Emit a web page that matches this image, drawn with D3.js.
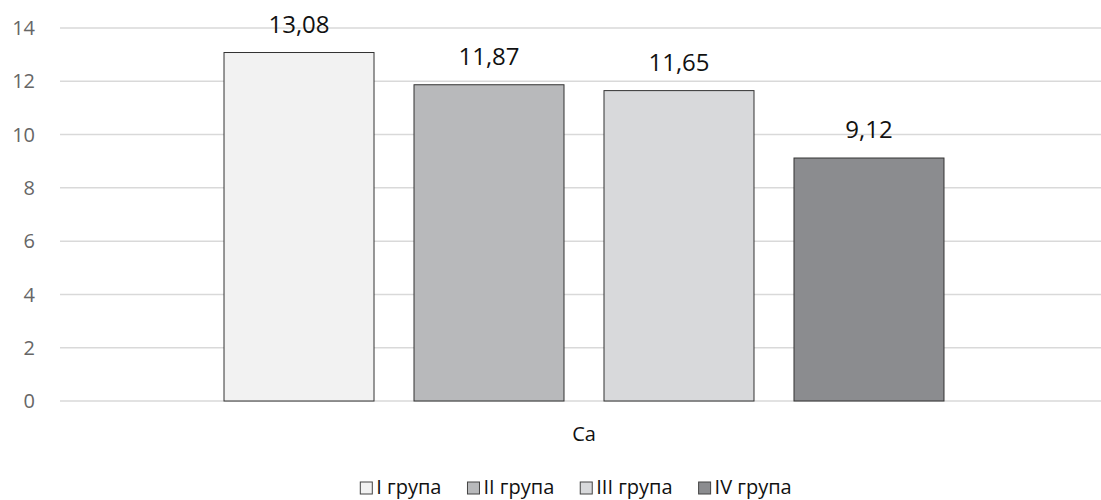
<!DOCTYPE html>
<html><head><meta charset="utf-8">
<script src="https://cdn.jsdelivr.net/npm/d3@7"></script>
<style>body{margin:0;background:#fff}svg{display:block}</style>
</head><body>
<svg id="c" width="1101" height="500"></svg>
<script>
const categories = ["Ca"];
const seriesNames = ["I група", "II група", "III група", "IV група"];
const seriesValues = [13.08, 11.87, 11.65, 9.12];
const seriesColors = ["#f2f2f2", "#b8b9bb", "#d8d9db", "#8b8c8f"];
const yTicks = [0, 2, 4, 6, 8, 10, 12, 14];

const svg = d3.select("#c");
const font = "'Open Sans', sans-serif";
const y = d3.scaleLinear().domain([0, 14]).range([401, 28]);
const x0 = d3.scaleBand().domain(categories).range([60, 1108]).paddingInner(0).paddingOuter(0.2278);
const x1 = d3.scaleBand().domain(seriesNames).range([0, x0.bandwidth()]).paddingInner(0.2105).paddingOuter(0);

// grid
svg.append("g").selectAll("line").data(yTicks).join("line")
  .attr("x1", 60).attr("x2", 1101)
  .attr("y1", d => y(d)).attr("y2", d => y(d))
  .attr("stroke", "#d9d9d9").attr("stroke-width", 1.5);

// y tick labels
svg.append("g").selectAll("text").data(yTicks).join("text")
  .attr("x", 35).attr("y", d => y(d)).attr("dy", "0.36em")
  .attr("text-anchor", "end").attr("font-family", font).attr("font-size", 20)
  .attr("fill", "#666").text(d => d);

// bars
const g = svg.append("g");
categories.forEach(cat => {
  seriesNames.forEach((s, i) => {
    const bx = x0(cat) + x1(s);
    g.append("rect")
      .attr("x", bx).attr("y", y(seriesValues[i]))
      .attr("width", x1.bandwidth()).attr("height", y(0) - y(seriesValues[i]))
      .attr("fill", seriesColors[i]).attr("stroke", "#333").attr("stroke-width", 1);
    g.append("text")
      .attr("x", bx + x1.bandwidth() / 2).attr("y", y(seriesValues[i]) - 20)
      .attr("text-anchor", "middle").attr("font-family", font).attr("font-size", 24)
      .attr("fill", "#111").text(seriesValues[i].toFixed(2).replace(".", ","));
  });
  svg.append("text").attr("x", x0(cat) + x0.bandwidth() / 2).attr("y", 441)
    .attr("text-anchor", "middle").attr("font-family", font).attr("font-size", 20)
    .attr("fill", "#111").text(cat);
});

// legend
const leg = svg.append("g");
const items = seriesNames.map((s, i) => {
  const gi = leg.append("g");
  gi.append("rect").attr("x", 0).attr("y", -12).attr("width", 12).attr("height", 12)
    .attr("fill", seriesColors[i]).attr("stroke", "#444").attr("stroke-width", 1);
  const t = gi.append("text").attr("x", 16).attr("y", 0)
    .attr("font-family", font).attr("font-size", 20).attr("fill", "#111").text(s);
  return {gi, w: 16 + t.node().getComputedTextLength()};
});
const gap = 26;
const total = d3.sum(items, d => d.w) + gap * (items.length - 1);
let cx = 576 - total / 2;
items.forEach(it => { it.gi.attr("transform", `translate(${cx},494)`); cx += it.w + gap; });
</script>
</body></html>
